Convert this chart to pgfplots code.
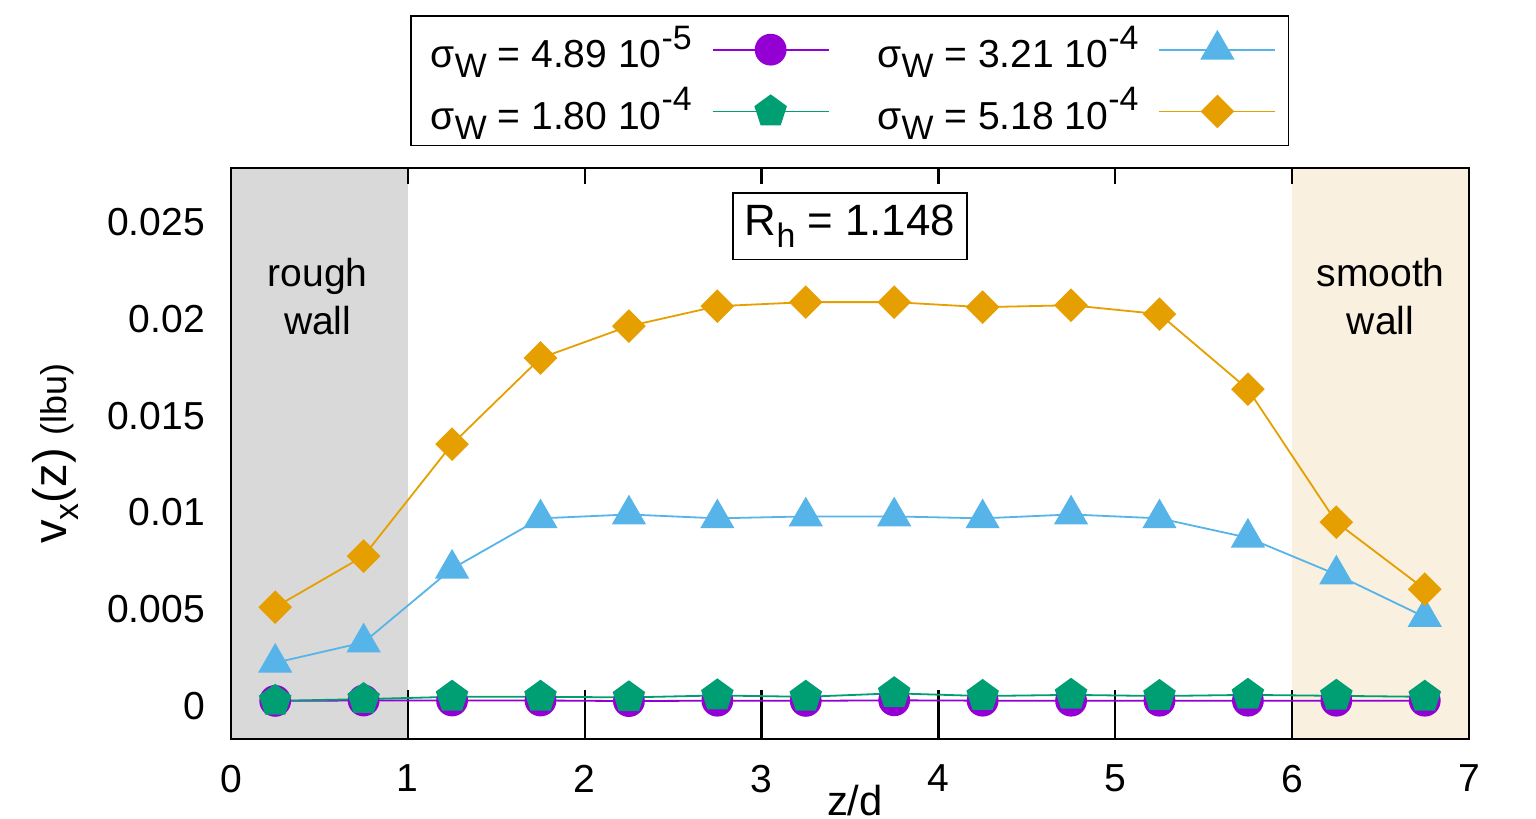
\documentclass[border=0pt]{standalone}
\usepackage{fontspec}
\setmainfont{Liberation Sans}
\usepackage{pgfplots}
\pgfplotsset{compat=1.18}
\definecolor{cpurple}{HTML}{9400D3}
\definecolor{cgreen}{HTML}{009E73}
\definecolor{cblue}{HTML}{56B4E9}
\definecolor{corange}{HTML}{E69F00}
\definecolor{cgray}{HTML}{D9D9D9}
\definecolor{cbeige}{HTML}{F9F0DF}
\newcommand{\SB}[1]{\raisebox{-0.5ex}{\fontsize{8.5}{8.5}\selectfont #1}}
\newcommand{\SP}[1]{\raisebox{0.9ex}{\fontsize{8.5}{8.5}\selectfont #1}}
\newcommand{\basefont}{\fontsize{9.8}{12}\selectfont}
\pgfplotsset{
  spurple/.style={cpurple, line width=0.45bp, mark=*, mark size=3.75bp, mark options={fill=cpurple, draw=cpurple}},
  sgreen/.style={cgreen, line width=0.45bp, mark=pentagon*, mark size=4bp, mark options={fill=cgreen, draw=cgreen}},
  sblue/.style={cblue, line width=0.45bp, mark=triangle*, mark size=4.5bp, mark options={fill=cblue, draw=cblue}},
  sorange/.style={corange, line width=0.45bp, mark=square*, mark size=2.75bp, mark options={fill=corange, draw=corange, rotate=45}},
}
\begin{document}
\begin{tikzpicture}
\useasboundingbox (0,0) rectangle (384bp,-204.75bp);
\begin{axis}[
  at={(57.75bp,-184.75bp)}, anchor=south west,
  scale only axis, width=309.5bp, height=142.75bp,
  xmin=0, xmax=7, ymin=-0.0017, ymax=0.0278,
  xtick={0,1,2,3,4,5,6,7},
  xticklabels={0,1,2,3,4,5,6,7},
  ytick={0,0.005,0.01,0.015,0.02,0.025},
  yticklabels={0,0.005,0.01,0.015,0.02,0.025},
  scaled y ticks=false, scaled x ticks=false,
  /pgf/number format/assume math mode=true,
  tick align=inside,
  major tick length=4bp,
  ytick style={draw opacity=0},
  xtick style={draw=black, line width=0.6bp},
  axis on top,
  axis line style={line width=0.6bp},
  tick label style={font=\basefont},
  xticklabel style={yshift=-3bp},
  yticklabel style={xshift=-3bp},
  xlabel={z/d},
  xlabel style={font=\fontsize{10.5}{12}\selectfont, at={(axis description cs:0.504,0)}, anchor=center, yshift=-15.5bp},
  ylabel={v\SB{x}(z) {\fontsize{9}{10}\selectfont (lbu)}},
  ylabel style={font=\fontsize{11.8}{13}\selectfont, at={(axis description cs:-0.142,0.5)}, anchor=center},
  legend columns=2,
  legend plot pos=right,
  legend cell align=right,
  legend style={at={(axis description cs:0.1446,1.268)}, anchor=north west,
    draw=black, line width=0.4bp, font=\basefont, inner xsep=3bp, inner ysep=0.5bp,
    row sep=-0.5bp,
    /tikz/every odd column/.style={column sep=3bp},
    /tikz/every even column/.style={column sep=10bp}},
  legend image code/.code={\draw[mark repeat=2,mark phase=2,#1] plot coordinates {(0bp,0bp) (14.5bp,0bp) (29bp,0bp)};},
]
\fill[cgray] (axis cs:0,-0.0017) rectangle (axis cs:1,0.0278);
\fill[cbeige] (axis cs:6,-0.0017) rectangle (axis cs:7,0.0278);
\pgfplotsinvokeforeach{1,2,3,4,5,6}{
  \draw[black, line width=0.6bp] (axis cs:#1,-0.0017) -- ++(0,4bp);
  \draw[black, line width=0.6bp] (axis cs:#1,0.0278) -- ++(0,-4bp);
}

\addplot[spurple, forget plot] coordinates {
(0.25,0.00027) (0.75,0.00029) (1.25,0.00029) (1.75,0.00029) (2.25,0.00026) (2.75,0.00028) (3.25,0.00027)
(3.75,0.00030) (4.25,0.00028) (4.75,0.00028) (5.25,0.00028) (5.75,0.00028) (6.25,0.00028) (6.75,0.00028)};

\addplot[sgreen, forget plot] coordinates {
(0.25,0.00027) (0.75,0.00036) (1.25,0.00048) (1.75,0.00048) (2.25,0.00045) (2.75,0.00055) (3.25,0.00048)
(3.75,0.00066) (4.25,0.00052) (4.75,0.00058) (5.25,0.00052) (5.75,0.00058) (6.25,0.00053) (6.75,0.00048)};

\addplot[sblue, forget plot] coordinates {
(0.25,0.00224) (0.75,0.00329) (1.25,0.0071) (1.75,0.0097) (2.25,0.0099) (2.75,0.0097) (3.25,0.0098)
(3.75,0.0098) (4.25,0.0097) (4.75,0.0099) (5.25,0.0097) (5.75,0.0087) (6.25,0.0068) (6.75,0.0046)};

\addplot[sorange, forget plot] coordinates {
(0.25,0.00511) (0.75,0.00775) (1.25,0.01353) (1.75,0.01798) (2.25,0.01963) (2.75,0.02066) (3.25,0.02087)
(3.75,0.02087) (4.25,0.02061) (4.75,0.02071) (5.25,0.02025) (5.75,0.01637) (6.25,0.0095) (6.75,0.00604)};

\addlegendimage{spurple}
\addlegendentry{σ\SB{W} = 4.89 10\SP{-5}}
\addlegendimage{sblue}
\addlegendentry{σ\SB{W} = 3.21 10\SP{-4}}
\addlegendimage{sgreen}
\addlegendentry{σ\SB{W} = 1.80 10\SP{-4}}
\addlegendimage{sorange}
\addlegendentry{σ\SB{W} = 5.18 10\SP{-4}}

\node[draw=black, line width=0.4bp, font=\fontsize{11}{13}\selectfont, inner xsep=3bp, inner ysep=3bp] at (axis cs:3.5,0.02479) {R\SB{h} = 1.148};
\node[font=\basefont, align=center] at (axis cs:0.49,0.02118) {rough\\wall};
\node[font=\basefont, align=center] at (axis cs:6.5,0.02118) {smooth\\wall};
\end{axis}
\end{tikzpicture}
\end{document}
